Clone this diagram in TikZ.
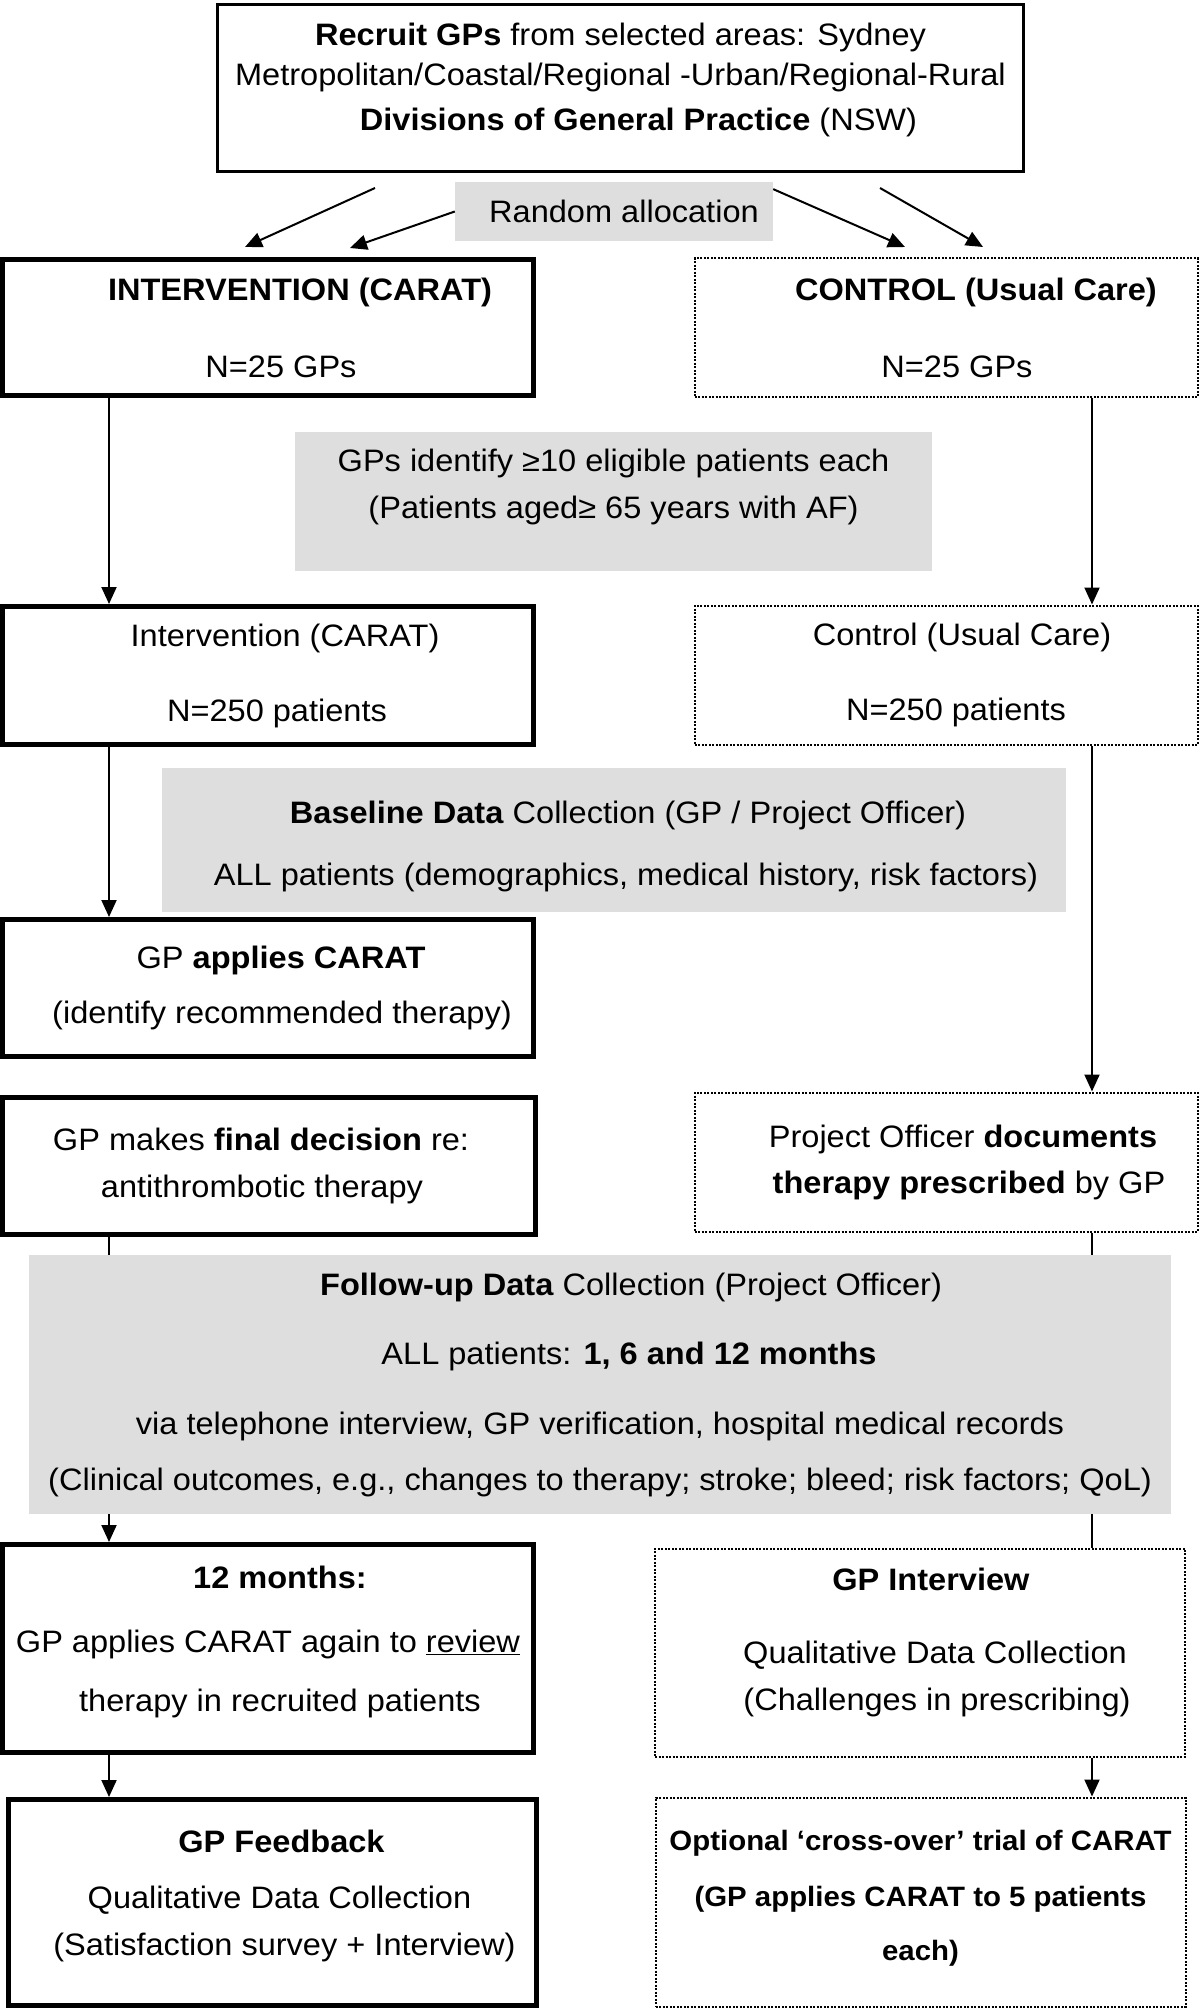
\documentclass[tikz,border=0pt]{standalone}
\usepackage{fontspec}
\setmainfont{Liberation Sans}[FakeStretch = 1.05]
\usetikzlibrary{arrows.meta}
\definecolor{panelgrey}{RGB}{222,222,222}

\begin{document}
\begin{tikzpicture}[
  x = 1pt, y = -1pt,
  every node/.style = {font = \fontsize{31}{37}\selectfont, align = center, inner sep = 0pt},
  thickbox/.style = {draw, line width = 5pt},
  plainbox/.style = {draw, line width = 2.5pt},
  dotbox/.style = {draw, line width = 2pt, dash pattern = on 2pt off 1.5pt},
  greybox/.style = {fill = panelgrey},
  link/.style = {line width = 2pt},
  arrow/.style = {link, -{Triangle[length = 17pt, width = 15pt]}}
  ]
  \useasboundingbox (0,0) rectangle (1200,2010);

  % recruitment and allocation
  \node[plainbox, minimum width = 806pt, minimum height = 167pt] (recruit) at (620.5,88)
    {\textbf{Recruit GPs} from selected areas: Sydney\\[3pt]
     Metropolitan/Coastal/Regional -Urban/Regional-Rural\\[8pt]
     \hspace*{36pt}\textbf{Divisions of General Practice} (NSW)\\[-14pt]\mbox{}};
  \node[greybox, minimum width = 318pt, minimum height = 59pt] (alloc) at (614,211.5)
    {\hspace*{20pt}Random allocation};

  % left column: intervention
  \node[thickbox, minimum width = 531pt, minimum height = 136pt] (intgp) at (268,327.5)
    {\hspace*{64pt}\textbf{INTERVENTION (CARAT)}\\[40pt] \hspace*{26pt}N=25 GPs};
  \node[thickbox, minimum width = 531pt, minimum height = 138pt] (intpat) at (268,675.5)
    {\hspace*{34pt}Intervention (CARAT)\\[38pt] \hspace*{18pt}N=250 patients};
  \node[thickbox, minimum width = 531pt, minimum height = 137pt] (apply) at (268,988)
    {\hspace*{26pt}GP \textbf{applies CARAT}\\[18pt] \hspace*{28pt}(identify recommended therapy)};
  \node[thickbox, minimum width = 533pt, minimum height = 137pt] (final) at (269,1166)
    {\hspace*{-16pt}GP makes \textbf{final decision} re:\\[10pt] \hspace*{-14pt}antithrombotic therapy};
  \node[thickbox, minimum width = 531pt, minimum height = 208pt] (months) at (268,1648.5)
    {\hspace*{24pt}\textbf{12 months:}\\[27pt] GP applies CARAT again to \underline{review}\\[22pt]
     \hspace*{24pt}therapy in recruited patients\\[-18pt]\mbox{}};
  \node[thickbox, minimum width = 528pt, minimum height = 206pt] (feedback) at (272.5,1902.5)
    {\hspace*{18pt}\textbf{GP Feedback}\\[19pt] \hspace*{14pt}Qualitative Data Collection\\[10pt]
     \hspace*{24pt}(Satisfaction survey + Interview)\\[-17pt]\mbox{}};

  % right column: control
  \node[dotbox, minimum width = 503pt, minimum height = 139pt] (ctlgp) at (946,327.5)
    {\hspace*{60pt}\textbf{CONTROL (Usual Care)}\\[40pt] \hspace*{22pt}N=25 GPs};
  \node[dotbox, minimum width = 503pt, minimum height = 139pt] (ctlpat) at (946,675)
    {\hspace*{32pt}Control (Usual Care)\\[38pt] \hspace*{20pt}N=250 patients};
  \node[dotbox, minimum width = 503pt, minimum height = 139pt] (officer) at (946,1162)
    {\hspace*{34pt}Project Officer \textbf{documents}\\[9pt] \hspace*{46pt}\textbf{therapy prescribed} by GP};
  \node[dotbox, minimum width = 530pt, minimum height = 208pt] (interview) at (920,1652.5)
    {\hspace*{22pt}\textbf{GP Interview}\\[36pt] \hspace*{30pt}Qualitative Data Collection\\[10pt]
     \hspace*{34pt}(Challenges in prescribing)\\[-11pt]\mbox{}};
  \node[dotbox, minimum width = 530pt, minimum height = 209pt, font = \fontsize{28}{34}\selectfont]
    (optional) at (920.5,1902)
    {\textbf{Optional ‘cross-over’ trial of CARAT}\\[22pt]
     \textbf{(GP applies CARAT to 5 patients}\\[20pt] \textbf{each)}\\[-20pt]\mbox{}};

  % shared steps
  \node[greybox, minimum width = 637pt, minimum height = 139pt] (identify) at (613.5,501.5)
    {GPs identify ≥10 eligible patients each\\[10pt] (Patients aged≥ 65 years with AF)\\[-1pt]\mbox{}};
  \node[greybox, minimum width = 904pt, minimum height = 144pt] (baseline) at (614,840)
    {\hspace*{28pt}\textbf{Baseline Data} Collection (GP / Project Officer)\\[25pt]
     \hspace*{24pt}ALL patients (demographics, medical history, risk factors)\\[-43pt]\mbox{}};
  \node[greybox, minimum width = 1142pt, minimum height = 259pt] (follow) at (600,1384.5)
    {\hspace*{62pt}\textbf{Follow-up Data} Collection (Project Officer)\\[32pt]
     \hspace*{58pt}ALL patients: \textbf{1, 6 and 12 months}\\[33pt]
     via telephone interview, GP verification, hospital medical records\\[19pt]
     (Clinical outcomes, e.g., changes to therapy; stroke; bleed; risk factors; QoL)};

  % randomisation arrows
  \coordinate (splitL) at (375,188);
  \coordinate (splitR) at (880,188);
  \coordinate (tipA) at (245,247);
  \coordinate (tipB) at (350,248);
  \coordinate (tipC) at (905,247);
  \coordinate (tipD) at (983,247);
  \draw[arrow] (splitL) -- (tipA);
  \draw[arrow] (alloc.west) -- (tipB);
  \draw[arrow] (alloc.8) -- (tipC);
  \draw[arrow] (splitR) -- (tipD);

  % flow lines
  \coordinate (colL) at (109,0);
  \coordinate (colR) at (1092,0);
  \draw[arrow] (intgp.south -| colL) -- (intpat.north -| colL);
  \draw[arrow] (intpat.south -| colL) -- (apply.north -| colL);
  \draw[link] (final.south -| colL) -- (follow.north -| colL);
  \draw[arrow] (follow.south -| colL) -- (months.north -| colL);
  \draw[arrow] (months.south -| colL) -- (feedback.north -| colL);
  \draw[arrow] (ctlgp.south -| colR) -- (ctlpat.north -| colR);
  \draw[arrow] (ctlpat.south -| colR) -- (officer.north -| colR);
  \draw[link] (officer.south -| colR) -- (follow.north -| colR);
  \draw[link] (follow.south -| colR) -- (interview.north -| colR);
  \draw[arrow] (interview.south -| colR) -- (optional.north -| colR);
\end{tikzpicture}
\end{document}
